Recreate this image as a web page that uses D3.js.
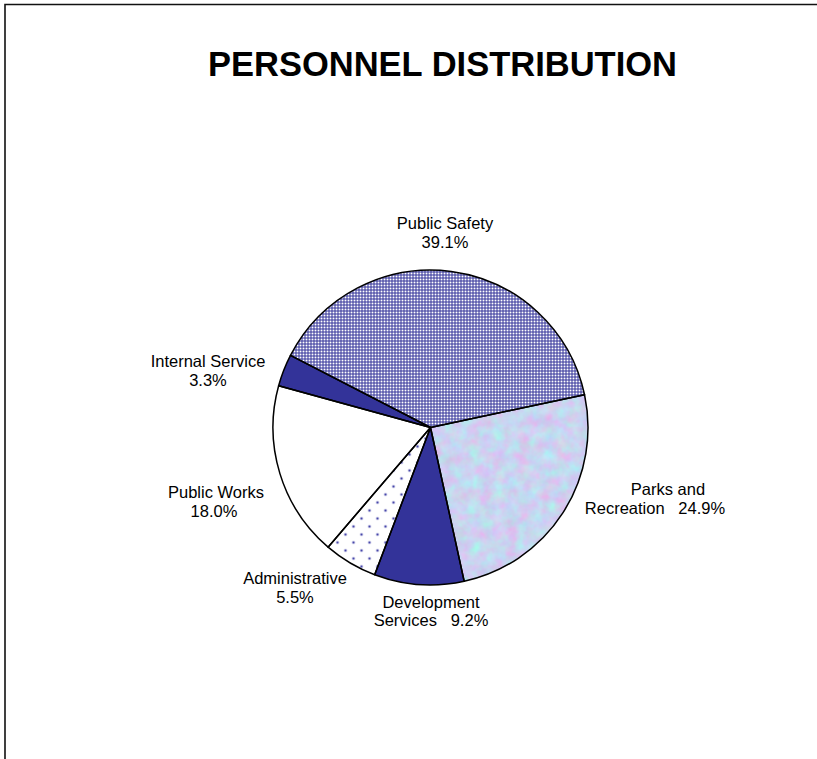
<!DOCTYPE html>
<html>
<head>
<meta charset="utf-8">
<script src="https://cdn.jsdelivr.net/npm/d3@7"></script>
<style>
  html, body { margin: 0; padding: 0; background: #fff; }
  svg { display: block; font-family: "Liberation Sans", Arial, sans-serif; }
  text { white-space: pre; }
</style>
</head>
<body>
<div id="chart"></div>
<script>
// Data, clockwise from the right-hand boundary of Public Safety
const categories = ['Parks and Recreation', 'Development Services', 'Administrative',
                    'Public Works', 'Internal Service', 'Public Safety'];
const shares = [24.9, 9.2, 5.5, 18.0, 3.3, 39.1];
const labelLines = [
    ['Parks and', 'Recreation   {v}'],
    ['Development', 'Services   {v}'],
    ['Administrative', '{v}'],
    ['Public Works', '{v}'],
    ['Internal Service', '{v}'],
    ['Public Safety', '{v}']
];
const titleText = 'PERSONNEL DISTRIBUTION';

// Layout
const width = 817, height = 759;
const cx = 430.5, cy = 427.5, radius = 157.5;
const startDeg = 78;
const lineGap = 18.5;
// label anchors (text centre x for each line, first baseline y)
const labelLayout = [
    { x: [668, 655], y: 495 },
    { x: [431, 431], y: 607.5 },
    { x: [295, 295], y: 584 },
    { x: [216, 214], y: 498.3 },
    { x: [208, 208], y: 367.3 },
    { x: [445, 445], y: 229.3 }
];
const fills = ['#c8d4f0', '#333399', 'url(#dots)', '#ffffff', '#333399', 'url(#checker)'];

const svg = d3.select('#chart')
    .append('svg')
    .attr('width', width)
    .attr('height', height);

const defs = svg.append('defs');

// fine navy grid with white dots for Public Safety
const checker = defs.append('pattern')
    .attr('id', 'checker')
    .attr('patternUnits', 'userSpaceOnUse')
    .attr('width', 3).attr('height', 3);
checker.append('rect').attr('width', 3).attr('height', 3).attr('fill', '#333399');
checker.append('rect').attr('x', 1).attr('y', 1).attr('width', 2).attr('height', 2).attr('fill', '#ffffff');

// sparse dots for Administrative
const dots = defs.append('pattern')
    .attr('id', 'dots')
    .attr('patternUnits', 'userSpaceOnUse')
    .attr('width', 16).attr('height', 16);
dots.append('rect').attr('width', 16).attr('height', 16).attr('fill', '#ffffff');
dots.append('circle').attr('cx', 3).attr('cy', 3).attr('r', 1.3).attr('fill', '#4848aa');
dots.append('circle').attr('cx', 11).attr('cy', 11).attr('r', 1.3).attr('fill', '#4848aa');

// mottled tissue texture for Parks and Recreation
const tissue = defs.append('filter')
    .attr('id', 'tissue')
    .attr('color-interpolation-filters', 'sRGB')
    .attr('x', '0%').attr('y', '0%').attr('width', '100%').attr('height', '100%');
tissue.append('feTurbulence')
    .attr('type', 'fractalNoise')
    .attr('baseFrequency', 0.08)
    .attr('numOctaves', 3)
    .attr('seed', 7)
    .attr('result', 'noise');
tissue.append('feColorMatrix')
    .attr('in', 'noise')
    .attr('type', 'matrix')
    .attr('values', [
        0.26, -0.16, 0, 0, 0.74,
        -0.16, 0.26, 0, 0, 0.78,
        0, 0, 0.1, 0, 0.89,
        0, 0, 0, 0, 1
    ].join(' '))
    .attr('result', 'col');
tissue.append('feComposite')
    .attr('in', 'col')
    .attr('in2', 'SourceGraphic')
    .attr('operator', 'in');

// frame (top and left edges only)
svg.append('path')
    .attr('d', `M5,${height} L5,4.5 L${width},4.5`)
    .attr('fill', 'none')
    .attr('stroke', '#111')
    .attr('stroke-width', 1.6);

// title
svg.append('text')
    .attr('x', 442.5)
    .attr('y', 76)
    .attr('text-anchor', 'middle')
    .attr('font-size', 34.5)
    .attr('font-weight', 'bold')
    .attr('fill', '#000')
    .text(titleText);

// pie
const rad = Math.PI / 180;
const pie = d3.pie()
    .sort(null)
    .value(d => d)
    .startAngle(startDeg * rad)
    .endAngle(startDeg * rad + 2 * Math.PI);

const arc = d3.arc().innerRadius(0).outerRadius(radius);
const arcs = pie(shares);

const g = svg.append('g').attr('transform', `translate(${cx},${cy})`);

g.selectAll('path.slice')
    .data(arcs)
    .enter().append('path')
    .attr('class', 'slice')
    .attr('d', arc)
    .attr('fill', (d, i) => fills[i])
    .attr('filter', (d, i) => i === 0 ? 'url(#tissue)' : null);

g.selectAll('path.edge')
    .data(arcs)
    .enter().append('path')
    .attr('class', 'edge')
    .attr('d', arc)
    .attr('fill', 'none')
    .attr('stroke', '#000')
    .attr('stroke-width', 1.5)
    .attr('stroke-linejoin', 'round');

// labels
const fmt = d3.format('.1f');
const labels = svg.append('g')
    .attr('font-size', 16.5)
    .attr('fill', '#000');

categories.forEach((name, i) => {
    const lay = labelLayout[i];
    const t = labels.append('text').attr('text-anchor', 'middle');
    labelLines[i].forEach((line, j) => {
        t.append('tspan')
            .attr('x', lay.x[j])
            .attr('y', lay.y + j * lineGap)
            .text(line.replace('{v}', fmt(shares[i]) + '%'));
    });
});
</script>
</body>
</html>
